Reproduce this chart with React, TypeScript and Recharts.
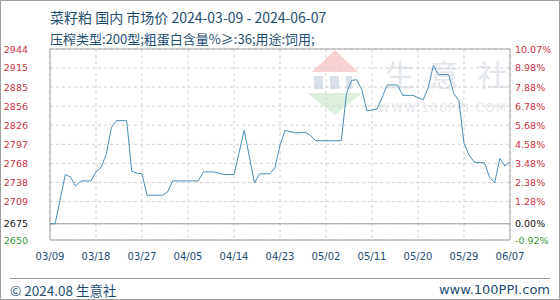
import React from "react";
import {
  LineChart,
  Line,
  XAxis,
  YAxis,
  CartesianGrid,
  ReferenceLine,
} from "recharts";

// day offset from 2024-03-09, price (元/吨)
const days = [
  0, 1, 3, 4, 5, 6, 8, 9, 10, 11, 12, 13, 15, 16, 17, 18, 19, 22, 23, 24, 29,
  30, 32, 34, 36, 38, 40, 41, 43, 44, 45, 46, 48, 50, 51, 52, 57, 58, 59, 60,
  61, 62, 64, 66, 68, 69, 71, 73, 74, 75, 76, 78, 79, 80, 81, 82, 83, 85, 86,
  87, 88, 89, 90,
];
const prices = [
  2675, 2675, 2751, 2747, 2733, 2741, 2741, 2755, 2762, 2782, 2823, 2834, 2834,
  2756, 2753, 2752, 2719, 2719, 2724, 2741, 2741, 2755, 2755, 2751, 2751, 2819,
  2738, 2752, 2752, 2761, 2796, 2819, 2815, 2816, 2811, 2803, 2803, 2876, 2896,
  2897, 2882, 2849, 2852, 2889, 2889, 2873, 2873, 2866, 2885, 2919, 2905, 2905,
  2876, 2865, 2799, 2781, 2770, 2769, 2747, 2738, 2776, 2764, 2770,
];

const xTicks = [0, 9, 18, 27, 36, 45, 54, 63, 72, 81, 90];
const xLabels = [
  "03/09", "03/18", "03/27", "04/05", "04/14", "04/23",
  "05/02", "05/11", "05/20", "05/29", "06/07",
];

const yTicks = [
  2650, 2675, 2709.2, 2738.7, 2768.1, 2797.5, 2826.9, 2856.4, 2885.8, 2915.2,
  2944.4,
];
const leftLabels = [
  "2650", "2675", "2709", "2738", "2768", "2797", "2826", "2856", "2885",
  "2915", "2944",
];
const rightLabels = [
  "-0.92%", "0.00%", "1.28%", "2.38%", "3.48%", "4.58%", "5.68%", "6.78%",
  "7.88%", "8.98%", "10.07%",
];

const data = days.map((d, i) => ({ day: d, price: prices[i] }));

const RED = "#cc3344";
const GREEN = "#3a9a3a";
const BLUE_TEXT = "#1e4d72";
const FONT = "'DejaVu Sans', Verdana, sans-serif";
const CJK = "'Noto Sans CJK SC', sans-serif";

function tickColor(i: number) {
  if (i === 0) return GREEN;
  if (i === 1) return "#111";
  return RED;
}

const LeftTick = (props: any) => {
  const { x, y, payload } = props;
  const i = yTicks.indexOf(payload.value);
  return (
    <text x={x} y={y} dy={3.5} textAnchor="end" fill={tickColor(i)} fontSize={9.5} fontFamily={FONT}>
      {leftLabels[i]}
    </text>
  );
};

const RightTick = (props: any) => {
  const { x, y, payload } = props;
  const i = yTicks.indexOf(payload.value);
  return (
    <text x={x} y={y} dy={3.5} textAnchor="start" fill={tickColor(i)} fontSize={9.5} fontFamily={FONT}>
      {rightLabels[i]}
    </text>
  );
};

function Watermark() {
  return (
    <svg width={560} height={300} style={{ position: "absolute", left: 0, top: 0 }}>
      <polygon points="335,50 358,72 312,72" fill="#f6d2d2" />
      <rect x={314} y={76} width={9} height={13} fill="#d9e0ea" />
      <rect x={330} y={76} width={9} height={13} fill="#d9e0ea" />
      <rect x={346} y={76} width={6} height={13} fill="#d9e0ea" />
      <polygon points="307,93 362,93 335,115" fill="#dcefdc" />
      <text x={400} y={86} textAnchor="middle" fontSize={30} fill="#e3e7ec" fontFamily={CJK}>
        生
      </text>
      <text x={444} y={86} textAnchor="middle" fontSize={30} fill="#e3e7ec" fontFamily={CJK}>
        意
      </text>
      <text x={492} y={86} textAnchor="middle" fontSize={30} fill="#e3e7ec" fontFamily={CJK}>
        社
      </text>
      <text x={378} y={112} fontSize={12} fill="#e6e9ee" fontFamily={FONT} textLength={128} lengthAdjust="spacing">
        WWW.100PPI.COM
      </text>
    </svg>
  );
}

export default function App() {
  return (
    <div
      style={{
        position: "absolute",
        left: 0,
        top: 0,
        width: 560,
        height: 300,
        background: "#fff",
        boxSizing: "border-box",
        border: "1px solid #a0a0a0",
        overflow: "hidden",
      }}
    >
      <div style={{ position: "absolute", left: -1, top: -1 }}>
        <Watermark />
      </div>
      <div style={{ position: "absolute", left: -1, top: -1 }}>
        <LineChart
          width={560}
          height={300}
          data={data}
          margin={{ top: 49, right: 0, left: 0, bottom: 30 }}
        >
          <CartesianGrid yAxisId="left" stroke="#cfcfcf" strokeDasharray="3 3" />
          <XAxis
            dataKey="day"
            type="number"
            domain={[0, 90]}
            ticks={xTicks}
            tickFormatter={(v) => xLabels[xTicks.indexOf(v)] ?? ""}
            tick={{ fontSize: 10, fill: BLUE_TEXT, fontFamily: FONT }}
            tickLine={false}
            tickSize={0}
            tickMargin={13}
            axisLine={{ stroke: "#a0a0a0" }}
            height={30}
            interval={0}
          />
          <YAxis
            yAxisId="left"
            orientation="left"
            domain={[2650, 2944.4]}
            ticks={yTicks}
            tick={<LeftTick />}
            tickLine={false}
            tickSize={0}
            tickMargin={22}
            axisLine={{ stroke: "#a0a0a0" }}
            width={50}
            interval={0}
          />
          <YAxis
            yAxisId="right"
            orientation="right"
            domain={[2650, 2944.4]}
            ticks={yTicks}
            tick={<RightTick />}
            tickLine={false}
            tickSize={0}
            tickMargin={5}
            axisLine={{ stroke: "#a0a0a0" }}
            width={50}
            interval={0}
          />
          <ReferenceLine yAxisId="left" y={2944.4} stroke="#a0a0a0" />
          <ReferenceLine yAxisId="left" y={2675} stroke="#a0a0a0" />
          <Line
            yAxisId="right"
            dataKey="price"
            stroke="none"
            dot={false}
            activeDot={false}
            isAnimationActive={false}
          />
          <Line
            yAxisId="left"
            type="linear"
            dataKey="price"
            stroke="#4a8db5"
            strokeWidth={1}
            dot={false}
            activeDot={false}
            isAnimationActive={false}
          />
        </LineChart>
      </div>
      <div
        style={{
          position: "absolute",
          left: 49,
          top: 6,
          color: BLUE_TEXT,
          fontFamily: CJK,
          lineHeight: "21px",
          whiteSpace: "nowrap",
        }}
      >
        <div style={{ fontSize: 14 }}>菜籽粕 国内 市场价 2024-03-09 - 2024-06-07</div>
        <div style={{ fontSize: 13 }}>压榨类型:200型;粗蛋白含量%≥:36;用途:饲用;</div>
      </div>
      <div
        style={{
          position: "absolute",
          left: 9,
          right: 9,
          top: 277,
          borderTop: "1px solid #a0a0a0",
        }}
      />
      <div
        style={{
          position: "absolute",
          left: 9,
          top: 280,
          color: BLUE_TEXT,
          fontFamily: CJK,
          fontSize: 13.5,
          lineHeight: "18px",
        }}
      >
        © 2024.08 生意社
      </div>
      <div
        style={{
          position: "absolute",
          right: 9,
          top: 280,
          color: BLUE_TEXT,
          fontFamily: FONT,
          fontSize: 13,
          lineHeight: "18px",
        }}
      >
        www.100PPI.com
      </div>
    </div>
  );
}
